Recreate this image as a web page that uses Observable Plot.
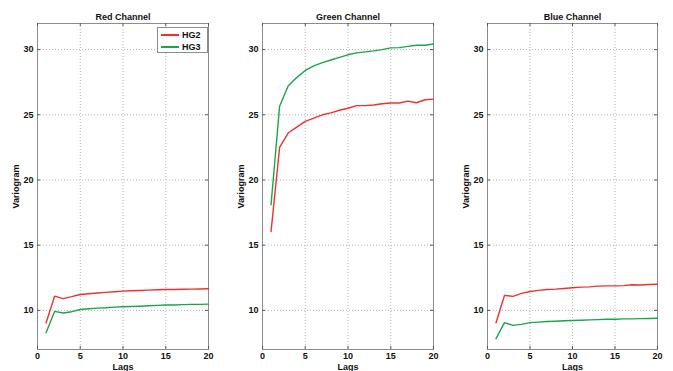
<!DOCTYPE html>
<html><head><meta charset="utf-8">
<script src="https://cdn.jsdelivr.net/npm/d3@7"></script>
<script src="https://cdn.jsdelivr.net/npm/@observablehq/plot@0.6"></script>
<style>
body{margin:0;background:#fff;}
#wrap{position:relative;width:673px;height:371px;display:flex;font-family:"Liberation Sans",Arial,sans-serif;}
#wrap svg{display:block;font-weight:bold;}
.legend{position:absolute;left:157px;top:27px;width:51px;height:26px;border:1px solid #8c8c8c;background:#fff;font-size:9px;font-weight:bold;color:#111;box-sizing:border-box;}
.legend .row{position:absolute;left:3px;height:12px;display:flex;align-items:center;}
.legend .sw{display:block;width:18px;height:2px;margin-right:3px;}
</style>
</head><body>
<div id="wrap"></div>
<script>
const lags = [1,2,3,4,5,6,7,8,9,10,11,12,13,14,15,16,17,18,19,20];
const channels = ["Red Channel","Green Channel","Blue Channel"];
const series = ["HG2","HG3"];
const colors = ["#f0302e","#1aa548"];
const xTicks = [0,5,10,15,20];
const yTicks = [10,15,20,25,30];

const redHG2   = [9.03,11.09,10.9,11.05,11.22,11.27,11.33,11.38,11.43,11.48,11.5,11.52,11.55,11.58,11.6,11.6,11.62,11.63,11.64,11.66];
const redHG3   = [8.29,9.92,9.8,9.9,10.07,10.12,10.17,10.2,10.25,10.28,10.3,10.32,10.35,10.38,10.41,10.41,10.44,10.46,10.46,10.48];
const greenHG2 = [16.05,22.5,23.6,24.05,24.5,24.75,25.0,25.15,25.35,25.5,25.7,25.7,25.75,25.85,25.9,25.9,26.05,25.92,26.15,26.2];
const greenHG3 = [18.1,25.65,27.2,27.85,28.4,28.75,29.0,29.2,29.4,29.6,29.75,29.82,29.9,30.0,30.13,30.15,30.25,30.33,30.33,30.43];
const blueHG2  = [9.05,11.15,11.07,11.3,11.45,11.53,11.6,11.63,11.68,11.73,11.78,11.8,11.86,11.88,11.88,11.9,11.96,11.95,11.99,12.0];
const blueHG3  = [7.83,9.06,8.85,8.93,9.06,9.1,9.15,9.17,9.2,9.22,9.24,9.27,9.29,9.32,9.32,9.35,9.35,9.37,9.38,9.4];

const data = [[redHG2, redHG3],[greenHG2, greenHG3],[blueHG2, blueHG3]];
const layout = [{ml:37,w:224},{ml:38,w:225},{ml:38,w:224}];
const H = 371, MT = 23, MB = 22, MR = 16;
const font = '"Liberation Sans", Arial, sans-serif';

function panel(title, vals, ml, width) {
  const rows = lags.flatMap((lag, i) => series.map((s, j) => ({lag, v: vals[j][i], s})));
  const ph = H - MT - MB, pw = width - ml - MR;
  return Plot.plot({
    width, height: H, marginTop: MT, marginBottom: MB, marginLeft: ml, marginRight: MR,
    style: {fontFamily: font, fontSize: "9px", fontWeight: "bold", color: "#111", background: "transparent"},
    x: {domain: [0, 20]},
    y: {domain: [7, 32]},
    color: {domain: series, range: colors},
    marks: [
      Plot.gridX(xTicks, {stroke: "#b4b4b4", strokeOpacity: 1, strokeDasharray: "1,2"}),
      Plot.gridY(yTicks, {stroke: "#b4b4b4", strokeOpacity: 1, strokeDasharray: "1,2"}),
      Plot.frame({stroke: "#8c8c8c"}),
      Plot.ruleX(xTicks, {insetTop: ph - 3, stroke: "#555"}),
      Plot.ruleX(xTicks, {insetBottom: ph - 3, stroke: "#555"}),
      Plot.ruleY(yTicks, {insetRight: pw - 3, stroke: "#555"}),
      Plot.ruleY(yTicks, {insetLeft: pw - 3, stroke: "#555"}),
      Plot.axisX({ticks: xTicks, tickSize: 0, tickPadding: 3, label: "Lags", labelAnchor: "center", labelArrow: "none", labelOffset: 20}),
      Plot.axisY({ticks: yTicks, tickSize: 0, tickPadding: 4, label: "Variogram", labelAnchor: "center", labelArrow: "none", labelOffset: 25}),
      Plot.line(rows, {x: "lag", y: "v", z: "s", stroke: "s", strokeWidth: 1.4}),
      Plot.text([title], {frameAnchor: "top", dy: -10, fontSize: 9})
    ]
  });
}

const wrap = document.getElementById("wrap");
channels.forEach((c, k) => wrap.appendChild(panel(c, data[k], layout[k].ml, layout[k].w)));

const legend = document.createElement("div");
legend.className = "legend";
series.forEach((s, j) => {
  const row = document.createElement("div");
  row.className = "row";
  row.style.top = (1 + j * 12) + "px";
  const sw = document.createElement("span");
  sw.className = "sw";
  sw.style.background = colors[j];
  const t = document.createElement("span");
  t.textContent = s;
  row.appendChild(sw); row.appendChild(t);
  legend.appendChild(row);
});
wrap.appendChild(legend);
</script>
</body></html>
